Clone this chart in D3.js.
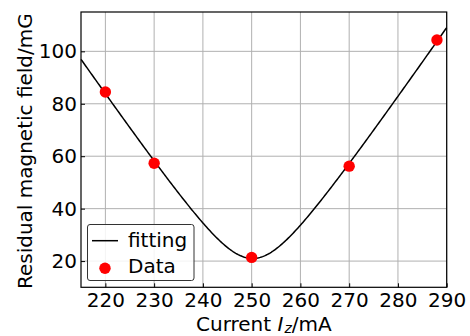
<!DOCTYPE html>
<html>
<head>
<meta charset="utf-8">
<script src="https://cdn.jsdelivr.net/npm/d3@7"></script>
<style>
  html, body { margin: 0; padding: 0; background: #fff; }
  svg { display: block; font-family: "DejaVu Sans", sans-serif; }
</style>
</head>
<body>
<svg id="chart" width="470" height="336"></svg>
<script>
// Measured residual field versus coil current
const currents = [220, 230, 250, 270, 288];
const fieldValues = [84.5, 57.3, 21.4, 56.2, 104.3];

// Axis ticks
const xTicks = [220, 230, 240, 250, 260, 270, 280, 290];
const yTicks = [20, 40, 60, 80, 100];

// Fitted model |B| = sqrt((k (I - I0))^2 + Bmin^2)
const fitSlope = 2.689;
const fitCenter = 250.2;
const fitMin = 21.0;
const fitRange = [215, 290];

const svg = d3.select("#chart");
const margin = { left: 81, top: 12, right: 470 - 446.7, bottom: 336 - 287.3 };
const W = 470, H = 336;

const x = d3.scaleLinear().domain([215, 290]).range([margin.left, W - margin.right]);
const y = d3.scaleLinear().domain([10, 115]).range([H - margin.bottom, margin.top]);

const fontSize = 20;

// Grid
const grid = svg.append("g").attr("stroke", "#b0b0b0").attr("stroke-width", 1);
xTicks.forEach(t => grid.append("line")
  .attr("x1", x(t)).attr("x2", x(t)).attr("y1", y.range()[0]).attr("y2", y.range()[1]));
yTicks.forEach(t => grid.append("line")
  .attr("y1", y(t)).attr("y2", y(t)).attr("x1", x.range()[0]).attr("x2", x.range()[1]));

// Fitted curve
const fit = I => Math.sqrt(Math.pow(fitSlope * (I - fitCenter), 2) + fitMin * fitMin);
const curveX = d3.range(fitRange[0], fitRange[1] + 0.001, 0.25);
svg.append("path")
  .datum(curveX)
  .attr("fill", "none")
  .attr("stroke", "#000")
  .attr("stroke-width", 1.5)
  .attr("d", d3.line().x(d => x(d)).y(d => y(fit(d))));

// Data points
svg.append("g").selectAll("circle")
  .data(currents.map((c, i) => [c, fieldValues[i]]))
  .join("circle")
  .attr("cx", d => x(d[0]))
  .attr("cy", d => y(d[1]))
  .attr("r", 5.7)
  .attr("fill", "#ff0000");

// Axes with inward ticks
const xAxis = d3.axisBottom(x).tickValues(xTicks).tickSizeInner(-4).tickSizeOuter(0).tickPadding(6);
const yAxis = d3.axisLeft(y).tickValues(yTicks).tickSizeInner(-4).tickSizeOuter(0).tickPadding(4);

const gx = svg.append("g").attr("transform", `translate(0,${y.range()[0]})`).call(xAxis);
const gy = svg.append("g").attr("transform", `translate(${x.range()[0]},0)`).call(yAxis);
[gx, gy].forEach(g => {
  g.select(".domain").remove();
  g.selectAll(".tick line").attr("stroke", "#000").attr("stroke-width", 1);
  g.selectAll("text").attr("font-size", fontSize).attr("fill", "#000")
    .attr("font-family", "DejaVu Sans, sans-serif");
});

// Frame
svg.append("rect")
  .attr("x", x.range()[0]).attr("y", y.range()[1])
  .attr("width", x.range()[1] - x.range()[0])
  .attr("height", y.range()[0] - y.range()[1])
  .attr("fill", "none").attr("stroke", "#000").attr("stroke-width", 1.2);

// Axis titles
const xl = svg.append("text")
  .attr("x", (x.range()[0] + x.range()[1]) / 2)
  .attr("y", 330.5)
  .attr("text-anchor", "middle")
  .attr("font-size", fontSize);
xl.append("tspan").text("Current ");
xl.append("tspan").attr("font-style", "italic").text("I");
xl.append("tspan").attr("font-style", "italic").attr("font-size", fontSize * 0.7).attr("dx", 1).attr("dy", 2.5).text("z");
xl.append("tspan").attr("dy", -2.5).text("/mA");

svg.append("text")
  .attr("transform", `translate(31.5,${(y.range()[0] + y.range()[1]) / 2 + 1.5}) rotate(-90)`)
  .attr("text-anchor", "middle")
  .attr("font-size", fontSize)
  .text("Residual magnetic field/mG");

// Legend
const lg = svg.append("g").attr("transform", "translate(87.5,224.5)");
lg.append("rect")
  .attr("width", 106.5).attr("height", 56)
  .attr("rx", 2.5)
  .attr("fill", "#fff").attr("fill-opacity", 0.85)
  .attr("stroke", "#333").attr("stroke-width", 1);
lg.append("line")
  .attr("x1", 4.5).attr("x2", 30.5).attr("y1", 16.2).attr("y2", 16.2)
  .attr("stroke", "#000").attr("stroke-width", 1.5);
lg.append("text").attr("x", 40.5).attr("y", 22.5).attr("font-size", fontSize).text("fitting");
lg.append("circle").attr("cx", 17.5).attr("cy", 43.8).attr("r", 5.7).attr("fill", "#ff0000");
lg.append("text").attr("x", 40.5).attr("y", 48.5).attr("font-size", fontSize).text("Data");
</script>
</body>
</html>
